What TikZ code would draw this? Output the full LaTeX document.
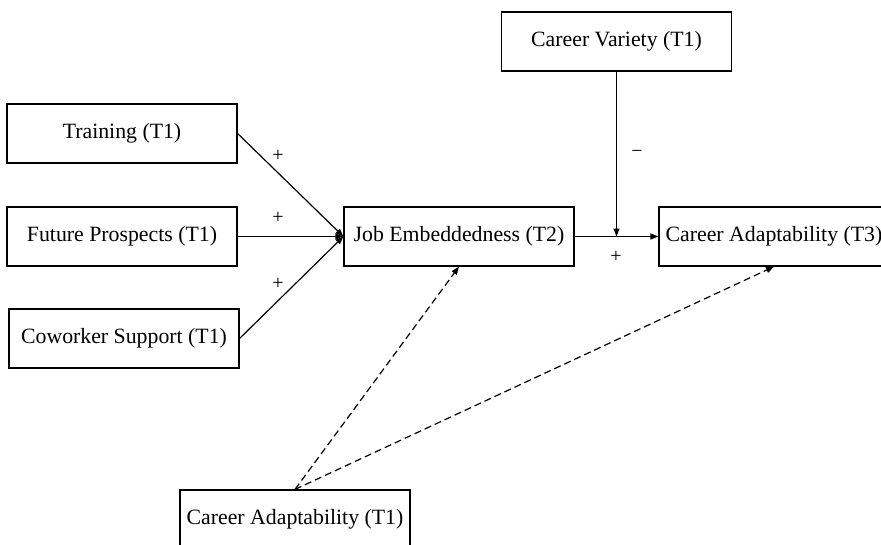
\documentclass[tikz,border=0pt]{standalone}
\usepackage{fontspec}
\setmainfont{Liberation Serif}
\usetikzlibrary{arrows.meta}
\begin{document}
\begin{tikzpicture}[x=1pt,y=-1pt,
  box/.style={draw,line width=1.2pt,minimum width=230pt,minimum height=59pt,inner sep=0pt,
    font=\fontsize{21.8}{26}\selectfont},
  lbl/.style={font=\fontsize{20}{24}\selectfont,inner sep=0pt},
  arr/.style={line width=1.2pt,-{Triangle[length=8pt,width=6pt]}},
  darr/.style={arr,dash pattern=on 7pt off 4pt}]
\useasboundingbox (0,0) rectangle (881,544);
\node[box] (tr) at (122,133.5) {Training (T1)};
\node[box] (fp) at (122,236.5) {Future Prospects (T1)};
\node[box] (cs) at (124,338.5) {Coworker Support (T1)};
\node[box] (je) at (459,236.5) {Job Embeddedness (T2)};
\node[box] (cv) at (616.5,41.5) {Career Variety (T1)};
\node[box] (ca3) at (774,236.5) {Career Adaptability (T3)};
\node[box] (ca1) at (295,519.5) {Career Adaptability (T1)};
\coordinate (mod) at (616.5,236.5);
\draw[arr] (tr.east) -- (je.west);
\draw[arr] (fp.east) -- (je.west);
\draw[arr] (cs.east) -- (je.west);
\draw[arr] (je.east) -- (ca3.west);
\draw[arr] (cv.south) -- (mod);
\draw[darr] (ca1.north) -- (je.south);
\draw[darr] (ca1.north) -- (ca3.south);
\node[lbl] (p1) at (278,156) {+};
\node[lbl] (p2) at (278,218) {+};
\node[lbl] (p3) at (278,284) {+};
\node[lbl] (m1) at (637,154) {−};
\node[lbl] (p4) at (616,257) {+};
\end{tikzpicture}
\end{document}
